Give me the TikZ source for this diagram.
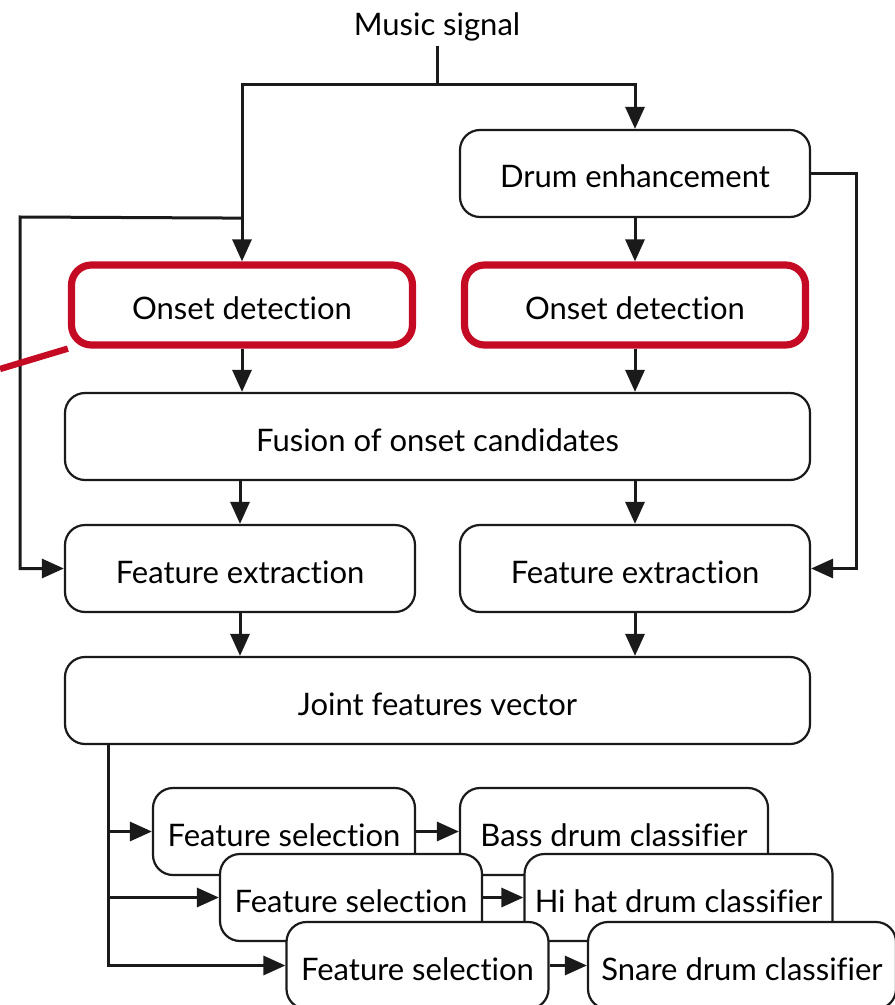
\documentclass[tikz,border=0pt]{standalone}
\usepackage{fontspec}
\setmainfont{Lato}[Ligatures=NoCommon]
\usepackage{tikz}
\usetikzlibrary{arrows.meta, positioning, calc}
\definecolor{hilite}{HTML}{C50A24}
\definecolor{edge}{HTML}{1A1A1A}
\newcommand{\boxfont}{\fontsize{15.5}{18}\selectfont}
\tikzset{
  blk/.style={rectangle, rounded corners=10pt, draw=edge, line width=1.1pt, fill=white, align=center, font=\boxfont, inner sep=0pt, minimum height=43.5pt, text height=14.5pt, text depth=0pt},
  half/.style={blk, minimum width=175pt},
  wide/.style={blk, minimum width=372.5pt},
  onset/.style={blk, draw=hilite, line width=3.6pt, minimum width=170.5pt, minimum height=40pt},
  sel/.style={blk, minimum width=131pt},
  cls/.style={blk, minimum width=154pt},
  arr/.style={-{Triangle[length=11pt, width=9.5pt]}, line width=1.5pt, draw=edge},
  wire/.style={line width=1.5pt, draw=edge},
  callout/.style={line width=3.2pt, draw=hilite},
}

\begin{document}
\begin{tikzpicture}[x=0.5pt, y=-0.5pt]
  \useasboundingbox (0,0) rectangle (894,1005);
  \node[font=\boxfont, inner sep=2pt] (music) at (437,27) {Music signal};
  \node[half] (drum) at (635,173.5) {Drum enhancement};
  \node[onset] (onsetL) at (242,305) {Onset detection};
  \node[onset] (onsetR) at (635,305) {Onset detection};
  \node[wide] (fusion) at (437.5,436.5) {Fusion of onset candidates};
  \node[half] (featL) at (240,568.5) {Feature extraction};
  \node[half] (featR) at (635,568.5) {Feature extraction};
  \node[wide] (joint) at (437.5,700.5) {Joint features vector};
  % stacked classifier chains, later ones on top
  \node[sel] (fs1) at (284,831.5) {Feature selection};
  \node[cls] (bass) at (614,831.5) {Bass drum classifier};
  \node[sel] (fs2) at (351,897.5) {Feature selection};
  \node[cls] (hihat) at (678.5,897.5) {Hi hat drum classifier};
  \node[sel] (fs3) at (417.5,965.5) {Feature selection};
  \node[cls] (snare) at (742,965.5) {Snare drum classifier};

  \coordinate (split) at (437,85);
  \coordinate (tapL) at (onsetL.north |- drum.south);
  \coordinate (rail) at (20,217);
  \coordinate (bus) at ($(joint.south west)+(45,0)$);
  \coordinate (edgept) at (0,369);

  \draw[wire] (music.south) -- (split);
  \draw[arr] (split) -| (drum.north);
  \draw[arr] (split) -| (onsetL.north);
  \draw[arr] (drum.south) -- (onsetR.north);
  \draw[arr] (tapL) -- (rail) |- (featL.west);
  \draw[arr] (drum.east) -- ++(45,0) |- (featR.east);
  \draw[arr] (onsetL.south) -- (onsetL.south |- fusion.north);
  \draw[arr] (onsetR.south) -- (onsetR.south |- fusion.north);
  \draw[arr] (featL.north |- fusion.south) -- (featL.north);
  \draw[arr] (featR.north |- fusion.south) -- (featR.north);
  \draw[arr] (featL.south) -- (featL.south |- joint.north);
  \draw[arr] (featR.south) -- (featR.south |- joint.north);
  \draw[arr] (bus) |- (fs3.west);
  \draw[arr] (bus |- fs1.west) -- (fs1.west);
  \draw[arr] (bus |- fs2.west) -- (fs2.west);
  \draw[arr] (fs1.east) -- (bass.west);
  \draw[arr] (fs2.east) -- (hihat.west);
  \draw[arr] (fs3.east) -- (snare.west);
  \draw[callout] (onsetL.south west) -- (edgept);
\end{tikzpicture}
\end{document}
